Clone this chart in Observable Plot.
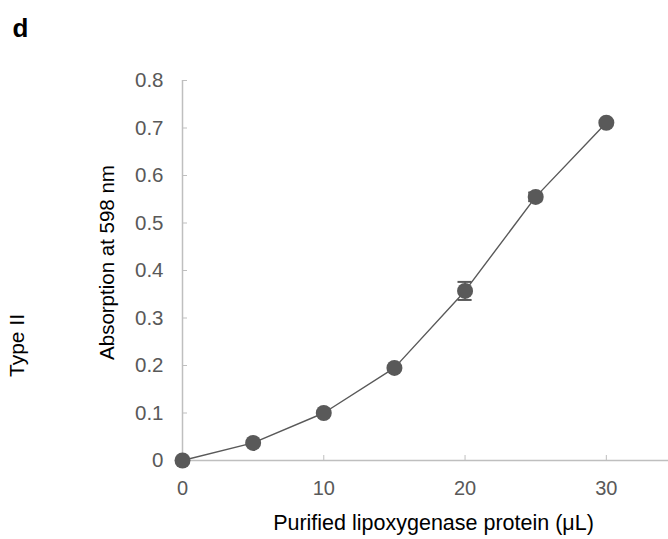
<!DOCTYPE html>
<html><head><meta charset="utf-8">
<script src="https://cdn.jsdelivr.net/npm/d3@7"></script>
<script src="https://cdn.jsdelivr.net/npm/@observablehq/plot@0.6"></script>
<style>body{margin:0;background:#fff} svg{display:block}</style>
</head><body><div id="chart"></div>
<script>
const proteinUL = [0, 5, 10, 15, 20, 25, 30];
const absorption = [0, 0.037, 0.100, 0.195, 0.357, 0.555, 0.711];
const errorSD = [0, 0, 0, 0, 0.019, 0.009, 0];
const xTicks = [0, 10, 20, 30];
const yTicks = [0, 0.1, 0.2, 0.3, 0.4, 0.5, 0.6, 0.7, 0.8];
const panelLabel = "d";
const rowLabel = "Type II";
const xTitle = "Purified lipoxygenase protein (\u03bcL)";
const yTitle = "Absorption at 598 nm";

const data = proteinUL.map((x, i) => ({x, y: absorption[i], sd: errorSD[i]}));
const errs = data.filter(d => d.sd > 0);
const capHalf = 0.5;
const font = "'Liberation Sans', Arial, sans-serif";
const gray = "#595959";
const axisGray = "#bfbfbf";

const chart = Plot.plot({
  width: 668, height: 539,
  marginLeft: 182, marginRight: 0, marginTop: 80, marginBottom: 79,
  style: {fontFamily: font, background: "#fff"},
  x: {domain: [0, 34.4]},
  y: {domain: [0, 0.8]},
  marks: [
    Plot.ruleY([0], {stroke: axisGray, strokeWidth: 1.5}),
    Plot.ruleX([0], {stroke: axisGray, strokeWidth: 1.5}),
    Plot.axisX({ticks: xTicks, tickSize: -5, stroke: axisGray, tickFormat: () => "", label: null}),
    Plot.axisY({ticks: yTicks, tickSize: -5, stroke: axisGray, tickFormat: () => "", label: null}),
    Plot.axisX({ticks: xTicks, tickSize: 0, tickPadding: 20, fill: gray, fontSize: 20, label: null, tickFormat: d => String(d)}),
    Plot.axisY({ticks: yTicks, tickSize: 0, tickPadding: 19, fill: gray, fontSize: 20.5, label: null, tickFormat: d => d === 0 ? "0" : d.toFixed(1)}),
    Plot.line(data, {x: "x", y: "y", stroke: gray, strokeWidth: 1.4}),
    Plot.ruleX(errs, {x: "x", y1: d => d.y - d.sd, y2: d => d.y + d.sd, stroke: gray, strokeWidth: 1.5}),
    Plot.ruleY(errs, {y: d => d.y - d.sd, x1: d => d.x - capHalf, x2: d => d.x + capHalf, stroke: gray, strokeWidth: 2}),
    Plot.ruleY(errs, {y: d => d.y + d.sd, x1: d => d.x - capHalf, x2: d => d.x + capHalf, stroke: gray, strokeWidth: 2}),
    Plot.dot(data, {x: "x", y: "y", r: 8, fill: gray, stroke: null}),
    Plot.text([panelLabel], {frameAnchor: "top-left", dx: -170, dy: -62, textAnchor: "start", lineAnchor: "top", fontSize: 26, fontWeight: "bold", fill: "#000"}),
    Plot.text([rowLabel], {frameAnchor: "left", dx: -165, dy: 75, rotate: -90, textAnchor: "middle", fontSize: 21, fill: "#000"}),
    Plot.text([yTitle], {frameAnchor: "left", dx: -75, dy: -8, rotate: -90, textAnchor: "middle", fontSize: 20.5, fill: "#000"}),
    Plot.text([xTitle], {frameAnchor: "bottom", dx: 8, dy: 54, lineAnchor: "top", fontSize: 21.5, fill: "#000"})
  ]
});
document.getElementById("chart").append(chart);
</script>
</body></html>
